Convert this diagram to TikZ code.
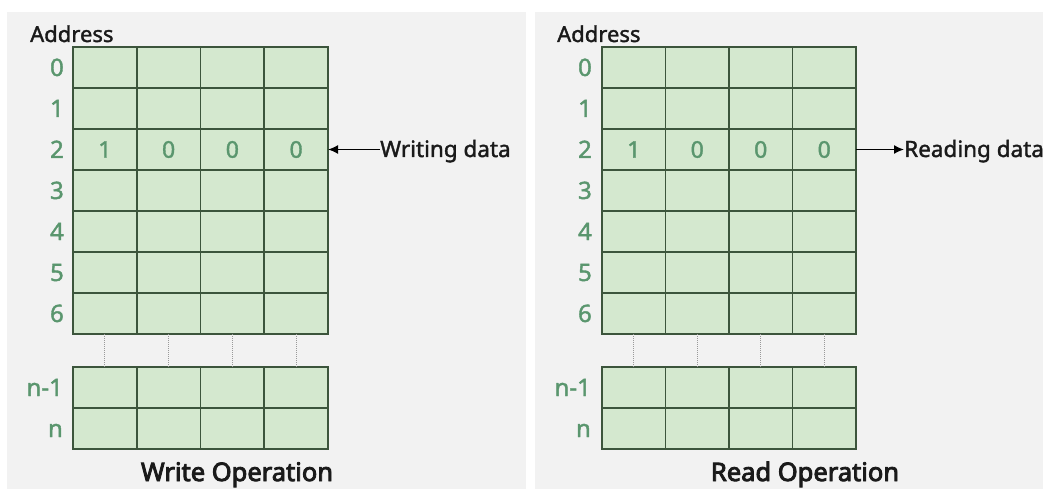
\documentclass[tikz,border=0pt]{standalone}
\usepackage{fontspec}
\setmainfont{Noto Sans}
\newfontfamily\medfont{Noto Sans}[FakeBold=1.6]
\newfontfamily\heavyfont{Noto Sans}[FakeBold=3.4]
\usetikzlibrary{arrows.meta}
\definecolor{panelc}{HTML}{F2F2F2}
\definecolor{cellc}{HTML}{D4E8CF}
\definecolor{gridc}{HTML}{3C553C}
\definecolor{numc}{HTML}{5A966E}
\definecolor{txtc}{HTML}{1A1A1A}
\begin{document}
\begin{tikzpicture}[x=1pt,y=-1pt,
  cell/.style={draw=gridc, fill=cellc, line width=1.8pt, minimum width=63.75pt, minimum height=41pt, inner sep=0pt, outer sep=0pt, text=numc, font=\medfont\fontsize{23}{27}\selectfont},
  rcell/.style={cell, minimum width=63.5pt},
  rowlab/.style={anchor=base east, inner sep=0pt, text=numc, font=\medfont\fontsize{24}{28}\selectfont},
  addr/.style={anchor=base west, inner sep=0pt, text=txtc, font=\medfont\fontsize{22}{26}\selectfont},
  side/.style={anchor=base west, inner sep=0pt, text=txtc, font=\medfont\fontsize{22.5}{27}\selectfont},
  optitle/.style={anchor=base, inner sep=0pt, text=txtc, font=\heavyfont\fontsize{25.5}{30}\selectfont},
  arr/.style={draw=black, line width=1.6pt, -{Latex[length=10pt,width=9pt]}},
  dotline/.style={draw=gray!80, line width=1pt, dash pattern=on 1pt off 1pt}]
\useasboundingbox (0,0) rectangle (1043,489);
\fill[white] (0,0) rectangle (1043,489);
\fill[panelc] (7,12) rectangle (526,489);
\fill[panelc] (535,12) rectangle (1043,489);
% left memory
\foreach \r in {0,...,6}{
  \foreach \c in {0,...,3}{
    \node[cell] (L-\r-\c) at ({73+63.75*(\c+0.5)},{47+41*(\r+0.5)}) {};
  }
  \node[rowlab] (Llab-\r) at (64,{76+41*\r}) {\r};
}
\foreach \c/\v in {0/1,1/0,2/0,3/0}{
  \node[cell] (L-2-\c) at ({73+63.75*(\c+0.5)},149.5) {\v};
}
\foreach \c in {0,...,3}{
  \node[cell] (L-n1-\c) at ({73+63.75*(\c+0.5)},387.5) {};
  \node[cell] (L-n-\c) at ({73+63.75*(\c+0.5)},428.5) {};
  \draw[dotline] (L-6-\c.south) -- (L-n1-\c.north);
}
\node[rowlab] (Llab-n1) at (63,396) {n-1};
\node[rowlab] (Llab-n) at (63,437) {n};
\node[addr] (Laddr) at (30,42) {Address};
\node[side] (wtext) at (380,157) {Writing data};
\draw[arr] (wtext.west |- L-2-3.east) -- (L-2-3.east);
\node[optitle] (wtitle) at (237,481) {Write Operation};
% right memory
\foreach \r in {0,...,6}{
  \foreach \c in {0,...,3}{
    \node[rcell] (R-\r-\c) at ({602+63.5*(\c+0.5)},{47+41*(\r+0.5)}) {};
  }
  \node[rowlab] (Rlab-\r) at (592,{76+41*\r}) {\r};
}
\foreach \c/\v in {0/1,1/0,2/0,3/0}{
  \node[rcell] (R-2-\c) at ({602+63.5*(\c+0.5)},149.5) {\v};
}
\foreach \c in {0,...,3}{
  \node[rcell] (R-n1-\c) at ({602+63.5*(\c+0.5)},387.5) {};
  \node[rcell] (R-n-\c) at ({602+63.5*(\c+0.5)},428.5) {};
  \draw[dotline] (R-6-\c.south) -- (R-n1-\c.north);
}
\node[rowlab] (Rlab-n1) at (591,396) {n-1};
\node[rowlab] (Rlab-n) at (591,437) {n};
\node[addr] (Raddr) at (557,42) {Address};
\node[side] (rtext) at (904,157) {Reading data};
\draw[arr] (R-2-3.east) -- (rtext.west |- R-2-3.east);
\node[optitle] (rtitle) at (805,481) {Read Operation};
\end{tikzpicture}
\end{document}
